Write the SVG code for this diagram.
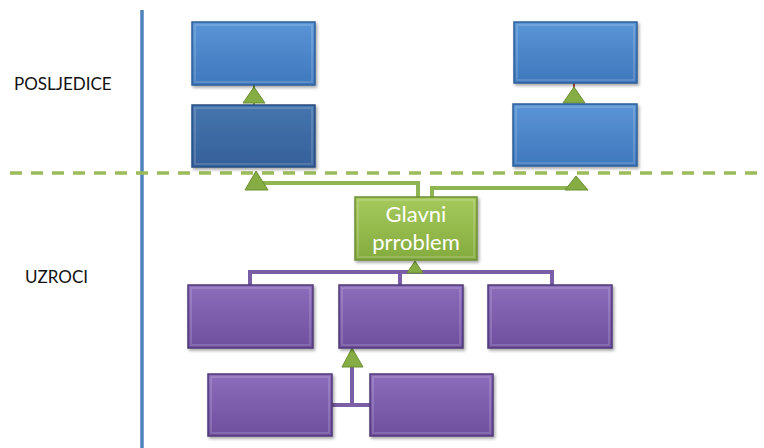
<svg xmlns="http://www.w3.org/2000/svg" width="764" height="448" viewBox="0 0 764 448">
<defs>
<linearGradient id="gBlue" x1="0" y1="0" x2="0" y2="1"><stop offset="0" stop-color="#5a95d6"/><stop offset="1" stop-color="#3f78bd"/></linearGradient>
<linearGradient id="gBlueD" x1="0" y1="0" x2="0" y2="1"><stop offset="0" stop-color="#4675ad"/><stop offset="1" stop-color="#35609a"/></linearGradient>
<linearGradient id="gGreen" x1="0" y1="0" x2="0" y2="1"><stop offset="0" stop-color="#a5c95c"/><stop offset="1" stop-color="#84ab3e"/></linearGradient>
<linearGradient id="gPurple" x1="0" y1="0" x2="0" y2="1"><stop offset="0" stop-color="#8c6dbb"/><stop offset="1" stop-color="#6e4f9e"/></linearGradient>
<filter id="sh" x="-10%" y="-10%" width="130%" height="140%"><feDropShadow dx="1.5" dy="2" stdDeviation="1.5" flood-color="#000" flood-opacity="0.35"/></filter>
</defs>
<style>
.box{filter:url(#sh);stroke-width:1.5}
.blue{fill:url(#gBlue);stroke:#2f5f99}
.blued{fill:url(#gBlueD);stroke:#264f82}
.green{fill:url(#gGreen);stroke:#6f8f34}
.purple{fill:url(#gPurple);stroke:#4f3878}
.hl{fill:none;stroke:#ffffff;stroke-opacity:0.15;stroke-width:2}
.gl{fill:none;stroke:#8fb552;stroke-width:4}
.pl{fill:none;stroke:#7a5fa6;stroke-width:4}
.tri{fill:#86ad44;stroke:#6b8f32;stroke-width:1}
.lbl{font-family:Lato,"Liberation Sans",sans-serif;font-size:17px;fill:#111}
.wt{font-family:Lato,"Open Sans",sans-serif;font-size:22px;fill:#ffffff;text-anchor:middle}
</style>
<rect width="764" height="448" fill="#ffffff"/>
<line x1="142" y1="10" x2="142" y2="448" stroke="#4f81bd" stroke-width="3.5"/>
<line x1="10" y1="173" x2="764" y2="173" stroke="#9bbb59" stroke-width="3.5" stroke-dasharray="12 9"/>
<text class="lbl" x="14" y="90">POSLJEDICE</text>
<text class="lbl" x="25" y="283">UZROCI</text>
<g id="connectors">
<polyline class="gl" points="256,190 256,183 418,183 418,197"/>
<polyline class="gl" points="432,197 432,188 576,188"/>
<line x1="254" y1="85" x2="254" y2="105" stroke="#6b8f32" stroke-width="2"/>
<line x1="574" y1="83" x2="574" y2="88" stroke="#b05050" stroke-width="2"/>
<polyline class="pl" points="250,285 250,272 552,272 552,285"/>
<line class="pl" x1="400" y1="272" x2="400" y2="285"/>
<polyline class="pl" points="332,405 370,405"/>
<line class="pl" x1="352" y1="405" x2="352" y2="360"/>
<polygon class="tri" points="254,87 243,103 265,103"/>
<polygon class="tri" points="574,87 563,103 585,103"/>
<polygon class="tri" points="256,171 245,190 268,190"/>
<polygon class="tri" points="576,176 565,190 588,190"/>
<polygon class="tri" points="415,261 407,273 423,273"/>
<polygon class="tri" points="352,348 342,367 363,367"/>
</g>
<g id="c1"><rect class="box blue" x="192" y="22" width="123" height="63"/><rect class="hl" x="195" y="25" width="117" height="57"/></g>
<g id="c2"><rect class="box blued" x="192" y="105" width="123" height="62"/><rect class="hl" x="195" y="108" width="117" height="56"/></g>
<g id="c3"><rect class="box blue" x="514" y="22" width="123" height="61"/><rect class="hl" x="517" y="25" width="117" height="55"/></g>
<g id="c4"><rect class="box blue" x="513" y="104" width="124" height="62"/><rect class="hl" x="516" y="107" width="118" height="56"/></g>
<g id="main"><rect class="box green" x="355" y="197" width="122" height="63"/><rect class="hl" x="358" y="200" width="116" height="57"/>
<text class="wt" x="416" y="222">Glavni</text><text class="wt" x="416" y="250">prroblem</text></g>
<g id="u1"><rect class="box purple" x="188" y="285" width="125" height="63"/><rect class="hl" x="191" y="288" width="119" height="57"/></g>
<g id="u2"><rect class="box purple" x="339" y="285" width="124" height="63"/><rect class="hl" x="342" y="288" width="118" height="57"/></g>
<g id="u3"><rect class="box purple" x="488" y="285" width="124" height="63"/><rect class="hl" x="491" y="288" width="118" height="57"/></g>
<g id="u4"><rect class="box purple" x="208" y="374" width="124" height="62"/><rect class="hl" x="211" y="377" width="118" height="56"/></g>
<g id="u5"><rect class="box purple" x="370" y="374" width="123" height="62"/><rect class="hl" x="373" y="377" width="117" height="56"/></g>
</svg>
